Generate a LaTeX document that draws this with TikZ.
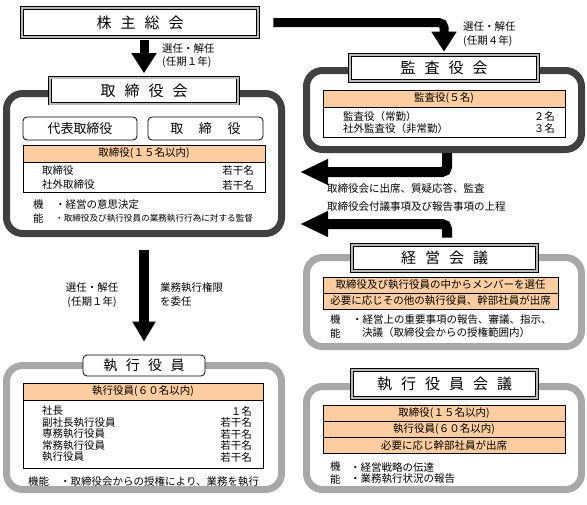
\documentclass[tikz,border=0pt]{standalone}
\usepackage{fontspec}
\setmainfont{Noto Sans CJK JP}
\usetikzlibrary{arrows.meta}
\usetikzlibrary{positioning}
\definecolor{peach}{RGB}{252,205,160}
\definecolor{darkrim}{RGB}{64,64,64}
\definecolor{lightrim}{RGB}{168,168,168}
\newcommand{\tgap}{\hspace{0.6em}}

\begin{document}
\begin{tikzpicture}[x=1pt, y=-1pt,
        font=\fontsize{10.5}{12}\selectfont,
        rim/.style = {draw, line width=7pt, rounded corners=16pt, inner sep=0pt},
        titlebox/.style = {draw, line width=0.6pt, double=gray!55, double distance=2pt,
            fill=white, inner sep=0pt, font=\fontsize{15}{17}\selectfont},
        softbox/.style = {draw, line width=0.8pt, rounded corners=4pt, fill=white, inner sep=0pt},
        listbox/.style = {draw, line width=0.7pt, fill=white, inner sep=0pt},
        headbar/.style = {draw, line width=0.7pt, fill=peach, inner sep=0pt},
        txt/.style = {anchor=west, inner sep=0pt},
        num/.style = {anchor=east, inner sep=0pt},
        lab/.style = {inner sep=0pt},
        bigarrow/.style = {line width=9pt, -{Triangle[width=24pt,length=20pt]}},
        sidearrow/.style = {line width=10pt, rounded corners=5pt, -{Triangle[width=24pt,length=28pt]}},
        downarrow/.style = {line width=10pt, -{Triangle[width=22pt,length=20pt]}}]
        \useasboundingbox (0,0) rectangle (587,504);

        % frames
        \node[rim, draw=darkrim, minimum width=275pt, minimum height=140pt] (torifr) at (144,163.5) {};
        \node[rim, draw=darkrim, minimum width=275pt, minimum height=79pt] (kansafr) at (444,110) {};
        \node[rim, draw=lightrim, minimum width=275pt, minimum height=89pt] (keieifr) at (444,302) {};
        \node[rim, draw=lightrim, minimum width=275pt, minimum height=124pt] (shikofr) at (144,427.5) {};
        \node[rim, draw=lightrim, minimum width=275pt, minimum height=103pt] (kaigifr) at (444,438) {};

        % titles
        \node[titlebox, minimum width=236pt, minimum height=29pt] (soukai) at (140,22.5) {株\tgap 主\tgap 総\tgap 会};
        \node[titlebox, minimum width=188pt, minimum height=26pt] (torikai) at (144,90.5) {取\tgap 締\tgap 役\tgap 会};
        \node[titlebox, minimum width=188pt, minimum height=26pt] (kansa) at (444,68) {監\tgap 査\tgap 役\tgap 会};
        \node[titlebox, minimum width=185pt, minimum height=26pt] (keiei) at (444.5,258) {経\tgap 営\tgap 会\tgap 議};
        \node[softbox, minimum width=122pt, minimum height=21pt, font=\fontsize{14}{16}\selectfont] (shiko) at (144,365.5) {執\tgap 行\tgap 役\tgap 員};
        \node[titlebox, minimum width=185pt, minimum height=28pt] (kaigi) at (444.5,384) {執\tgap 行\tgap 役\tgap 員\tgap 会\tgap 議};

        % board
        \node[softbox, minimum width=114pt, minimum height=23pt, font=\fontsize{13}{15}\selectfont] (daihyo) at (80,128.5) {代表取締役};
        \node[softbox, minimum width=115pt, minimum height=23pt, font=\fontsize{13}{15}\selectfont] (tori) at (205.5,128.5) {取\hspace{1.2em}締\hspace{1.2em}役};
        \node[listbox, minimum width=242pt, minimum height=47pt] (torilist) at (144,168.5) {};
        \node[headbar, minimum width=242pt, minimum height=17pt] (torihead) at (144,153.5) {取締役(１５名以内)};
        \node[txt] (tr1) at (42,171) {取締役};
        \node[num] (tn1) at (254,171) {若干名};
        \node[txt] (tr2) at (42,185) {社外取締役};
        \node[num] (tn2) at (254,185) {若干名};
        \node[txt] (tk1) at (33,205) {機};
        \node[txt] (tf1) at (55,205) {・経営の意思決定};
        \node[txt] (tk2) at (33,218) {能};
        \node[txt, font=\fontsize{8.6}{10}\selectfont] (tf2) at (55,218) {・取締役及び執行役員の業務執行行為に対する監督};

        % auditors
        \node[listbox, minimum width=242pt, minimum height=47pt] (kansalist) at (444,113.5) {};
        \node[headbar, minimum width=242pt, minimum height=17pt] (kansahead) at (444,98.5) {監査役(５名)};
        \node[txt] (kr1) at (343,117) {監査役（常勤）};
        \node[num] (kn1) at (555,117) {２名};
        \node[txt] (kr2) at (343,129) {社外監査役（非常勤）};
        \node[num] (kn2) at (555,129) {３名};

        % management meeting
        \node[headbar, minimum width=235pt, minimum height=16pt] (keiei1) at (440.5,285) {取締役及び執行役員の中からメンバーを選任};
        \node[headbar, minimum width=235pt, minimum height=16pt] (keiei2) at (440.5,301) {必要に応じその他の執行役員、幹部社員が出席};
        \node[txt] (ek1) at (330,320) {機};
        \node[txt] (ef1) at (352,320) {・経営上の重要事項の報告、審議、指示、};
        \node[txt] (ek2) at (330,333) {能};
        \node[txt] (ef2) at (362,333) {決議（取締役会からの授権範囲内）};

        % officers
        \node[listbox, minimum width=240pt, minimum height=85pt] (shikolist) at (143,425.5) {};
        \node[headbar, minimum width=240pt, minimum height=17pt] (shikohead) at (143,391.5) {執行役員(６０名以内)};
        \foreach \who/\many [count=\i] in {社長/１名, 副社長執行役員/若干名, 専務執行役員/若干名,
                常務執行役員/若干名, 執行役員/若干名} {
            \node[txt] (sr\i) at (42,399.5+11.5*\i) {\who};
            \node[num] (sn\i) at (252,399.5+11.5*\i) {\many};
        }
        \node[txt] (sk) at (28,482) {機能};
        \node[txt] (sf) at (60,482) {・取締役会からの授権により、業務を執行};

        % officers meeting
        \node[headbar, minimum width=242pt, minimum height=16pt] (kaigi1) at (444,413) {取締役(１５名以内)};
        \node[headbar, minimum width=242pt, minimum height=16pt] (kaigi2) at (444,429) {執行役員(６０名以内)};
        \node[headbar, minimum width=242pt, minimum height=16pt] (kaigi3) at (444,445) {必要に応じ幹部社員が出席};
        \node[txt] (gk1) at (330,467) {機};
        \node[txt] (gf1) at (350,467) {・経営戦略の伝達};
        \node[txt] (gk2) at (330,479) {能};
        \node[txt] (gf2) at (350,479) {・業務執行状況の報告};

        % connectors
        \coordinate (k1) at (447,172);
        \coordinate (k2) at (447,224);
        \draw[bigarrow] ([yshift=-3pt]soukai.south -| torikai.north) -- ([yshift=4pt]torikai.north);
        \draw[bigarrow, rounded corners=5pt] ([xshift=15pt]soukai.east) -| ([yshift=3pt]kansa.north);
        \draw[sidearrow] (kansafr.south -| k1) |- ([xshift=15pt]torifr.east |- k1);
        \draw[sidearrow] ([yshift=7pt]keiei.north -| k2) |- ([xshift=15pt]torifr.east |- k2);
        \draw[downarrow] ([yshift=-13pt]torifr.south) -- ([yshift=13pt]shiko.north);

        % labels
        \node[txt] (sel1) at (162,49) {選任・解任};
        \node[txt] (term1) at (162,62) {(任期１年)};
        \node[txt] (sel4) at (463,27) {選任・解任};
        \node[txt] (term4) at (463,41) {(任期４年)};
        \node[txt] (audit) at (327,188) {取締役会に出席、質疑応答、監査};
        \node[txt] (report) at (327,207) {取締役会付議事項及び報告事項の上程};
        \node[lab] (sel2) at (92,288) {選任・解任};
        \node[lab] (term2) at (92,302) {(任期１年)};
        \node[txt] (deleg) at (160,288) {業務執行権限};
        \node[txt] (deleg2) at (160,302) {を委任};
    \end{tikzpicture}
\end{document}
